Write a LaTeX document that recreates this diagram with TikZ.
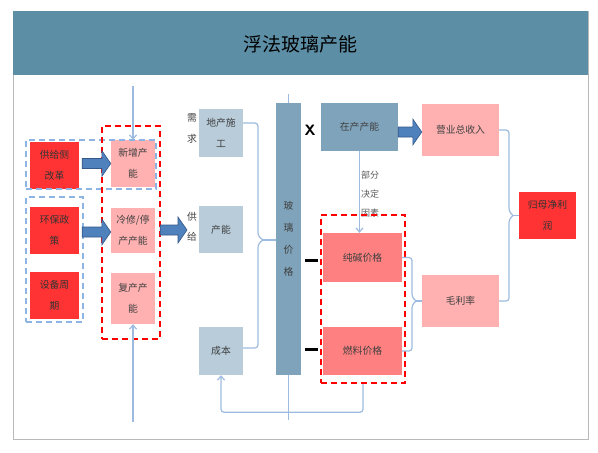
\documentclass[tikz,border=0pt]{standalone}
\usepackage{fontspec}
\usepackage{tikz}
\usetikzlibrary{arrows.meta,calc}
\newfontfamily\cjk{Noto Sans CJK SC}
\definecolor{hdrblue}{RGB}{92,142,166}
\definecolor{boxred}{RGB}{255,51,51}
\definecolor{boxpink}{RGB}{255,176,176}
\definecolor{boxsalmon}{RGB}{255,128,128}
\definecolor{boxgrey}{RGB}{184,204,218}
\definecolor{boxsteel}{RGB}{127,163,186}
\definecolor{linkblue}{RGB}{157,187,222}
\definecolor{dashblue}{RGB}{141,180,226}
\definecolor{fatfill}{RGB}{79,129,189}
\definecolor{fatedge}{RGB}{52,88,135}
\newcommand{\fatarrow}[2]{\path let \p1=(#1), \p2=(#2) in [draw=fatedge, fill=fatfill, line width=0.6pt]
  (\x1,\y2+5pt) -- (\x2-9pt,\y2+5pt) -- (\x2-9pt,\y2+13pt) -- (\x2,\y2) -- (\x2-9pt,\y2-13pt) -- (\x2-9pt,\y2-5pt) -- (\x1,\y2-5pt) -- cycle;}

\begin{document}
\begin{tikzpicture}[x=1pt,y=-1pt,
    every node/.style={font=\cjk\fontsize{9.8}{21}\selectfont, text=black!75, align=center, inner sep=0pt},
    redbox/.style={fill=boxred, text=black!80, minimum width=49pt, minimum height=47pt},
    pinkbox/.style={fill=boxpink, minimum width=44pt, minimum height=47pt},
    greybox/.style={fill=boxgrey, minimum width=44pt, minimum height=48pt},
    saltbox/.style={fill=boxsalmon, minimum width=79pt, minimum height=49pt},
    reddash/.style={draw=red, line width=2.4pt, dash pattern=on 6pt off 4pt},
    bluedash/.style={draw=dashblue, line width=2.4pt, dash pattern=on 6pt off 4pt},
    link/.style={draw=linkblue, line width=1.2pt},
    tip/.style={-{Straight Barb[length=4pt,width=7pt]}}]
  \useasboundingbox (0,0) rectangle (598,453);
  \draw [gray!55, line width=1pt] (13,11) rectangle (588,439);
  \fill [hdrblue] (13,11) rectangle (588,75);
  \node [text=black] (title) at (300,44) {\fontsize{19}{22}\selectfont 浮法玻璃产能};

  \node [redbox] (gjc) at (54.5,165) {供给侧\\改革};
  \node [redbox] (hbzc) at (54.5,230.5) {环保政\\策};
  \node [redbox] (sbzq) at (54.5,295.5) {设备周\\期};
  \node [pinkbox] (xzcn) at (133,163.5) {新增产\\能};
  \node [pinkbox, minimum height=45pt] (lxtc) at (133,230.5) {冷修/停\\产产能};
  \node [pinkbox, minimum height=51pt] (fccn) at (133,298.5) {复产产\\能};

  \node [greybox] (dcsg) at (221,133) {地产施\\工};
  \node [greybox, minimum height=47pt] (cn) at (221,229.5) {产能};
  \node [greybox] (cb) at (221,351) {成本};
  \node (xq) at (192,128.5) {需\\求};
  \node [font=\cjk\fontsize{9.8}{20}\selectfont] (gj) at (192,227) {供\\给};

  \node [fill=boxsteel, minimum width=25pt, minimum height=272pt, font=\cjk\fontsize{9.8}{22}\selectfont] (blj) at (288.5,239) {玻\\璃\\价\\格};
  \node [fill=boxsteel, minimum width=77pt, minimum height=48pt] (zccn) at (359.5,127) {在产产能};
  \node [text=black] (xmark) at (310,130) {\sffamily\bfseries\fontsize{15}{15}\selectfont X};
  \node [font=\cjk\fontsize{9}{19}\selectfont, text=black!65] (bfjd) at (370,194) {部分\\决定\\因素};
  \node [saltbox] (cjjg) at (362.5,257.5) {纯碱价格};
  \node [saltbox, minimum height=48pt] (rljg) at (362.5,351) {燃料价格};

  \node [fill=boxpink, minimum width=77pt, minimum height=52pt] (yyzsr) at (460.5,130) {营业总收入};
  \node [fill=boxpink, minimum width=77pt, minimum height=52pt] (mll) at (460.5,301) {毛利率};
  \node [redbox, minimum width=57pt] (gmjlr) at (547.5,215.5) {归母净利\\润};

  \node [bluedash, minimum width=130pt, minimum height=49pt] (dashB1) at (91,164.5) {};
  \node [bluedash, minimum width=57pt, minimum height=125pt] (dashB2) at (54.5,259.5) {};
  \node [reddash, minimum width=58pt, minimum height=213pt] (dashR1) at (131,232.5) {};
  \node [reddash, minimum width=84pt, minimum height=168pt] (dashR2) at (363,299) {};

  \coordinate (inA) at (133,86);
  \coordinate (inB) at (133,422);
  \coordinate (inC) at (288.5,94);
  \coordinate (inD) at (288.5,420);
  \coordinate (sup) at (187,230);
  \coordinate (t1) at (263,240);
  \coordinate (t2) at (416,301);
  \coordinate (t3) at (513,215.5);

  \fatarrow{[xshift=3pt]gjc.east}{xzcn.west}
  \fatarrow{[xshift=3pt]hbzc.east}{[yshift=-1.5pt]lxtc.west}
  \fatarrow{[xshift=5pt]lxtc.east}{sup}
  \fatarrow{zccn.east}{[yshift=-2pt]yyzsr.west}

  \draw [link, tip] (inA) -- (xzcn.north);
  \draw [link, tip] (inB) -- (fccn.south);
  \draw [link] (inC) -- (blj.north);
  \draw [link] (blj.south) -- (inD);
  \draw [link, tip] (zccn.south) -- (zccn.south |- cjjg.north);
  \draw [link, tip, rounded corners=3pt] (dashR2.south) -- ++(0,28) -| (cb.south);

  \draw [link, rounded corners=3pt] ([yshift=10pt]dcsg.east) -- (258,123) -- (258,236) -- (t1);
  \draw [link, rounded corners=3pt] ([yshift=3pt]cb.east) -- (258,348) -- (258,244) -- (t1);
  \draw [link] (t1) -- (blj.west |- t1);
  \draw [link, rounded corners=3pt] (cjjg.east) -- (412,257.5) -- (412,297) -- (t2);
  \draw [link, rounded corners=3pt] (rljg.east) -- (412,351) -- (412,305) -- (t2);
  \draw [link] (t2) -- (mll.west);
  \draw [link, rounded corners=3pt] (yyzsr.east) -- (509,130) -- (509,211.5) -- (t3);
  \draw [link, rounded corners=3pt] (mll.east) -- (509,301) -- (509,219.5) -- (t3);
  \draw [link] (t3) -- (gmjlr.west);

  \draw [line width=3pt] (305,260) -- (318,260);
  \draw [line width=3pt] (305,349) -- (318,349);
\end{tikzpicture}
\end{document}
